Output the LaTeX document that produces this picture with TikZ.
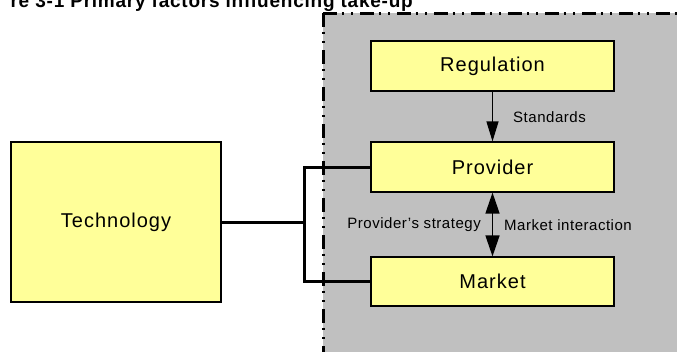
\documentclass[tikz,border=0pt]{standalone}
\usepackage{fontspec}
\setmainfont{Liberation Sans}
\newfontfamily\boxfont[LetterSpace=5]{Liberation Sans}
\newfontfamily\lblfont[LetterSpace=3.5]{Liberation Sans}
\newfontfamily\ttlfont[LetterSpace=4]{Liberation Sans}
\usetikzlibrary{arrows.meta}
\definecolor{boxyellow}{RGB}{255,255,153}
\definecolor{areagray}{RGB}{192,192,192}
\tikzset{
  factor/.style={draw=black, line width=1.2pt, fill=boxyellow, inner sep=0pt,
    minimum width=243pt, minimum height=50pt, font=\boxfont\fontsize{20}{24}\selectfont},
  lbl/.style={font=\lblfont\fontsize{15}{18}\selectfont, inner sep=0pt},
  ttl/.style={font=\ttlfont\bfseries\fontsize{19}{22}\selectfont, inner sep=0pt},
  link/.style={line width=3pt},
  border/.style={line width=3pt, dash pattern=on 14pt off 4.5pt on 2pt off 7.5pt on 2pt off 7pt},
  influence/.style={line width=1.2pt, -{Triangle[width=12pt,length=20pt]}},
  mutual/.style={line width=1.5pt, {Triangle[width=14pt,length=21pt]}-{Triangle[width=14pt,length=21pt]}},
}
\begin{document}
\begin{tikzpicture}[x=1pt,y=-1pt]
\useasboundingbox (0,0) rectangle (677,351);
\fill[areagray] (323,13) rectangle (690,360);
\draw[border] (323,13) -- (323,360);
\draw[border] (323,13) -- (690,13);
\node[ttl, anchor=base east] (title) at (413,7) {re 3-1 Primary factors influencing take-up};
\node[factor] (reg) at (492.5,66) {Regulation};
\node[factor] (prov) at (492.5,167) {Provider};
\node[factor, minimum height=49pt] (mkt) at (492.5,281.5) {Market};
\node[factor, minimum width=210pt, minimum height=160pt] (tech) at (116,222) {Technology};
\coordinate (j) at (304,222);
\draw[link] (tech.east) -- (j);
\draw[link] (prov.west) -| (j) |- (mkt.west);
\draw[influence] (reg) -- (prov);
\draw[mutual] (prov) -- (mkt);
\node[lbl, anchor=west] (std) at (513,117) {Standards};
\node[lbl, anchor=east] (strat) at (481,225) {Provider’s strategy};
\node[lbl, anchor=west] (inter) at (504,225) {Market interaction};
\end{tikzpicture}
\end{document}
